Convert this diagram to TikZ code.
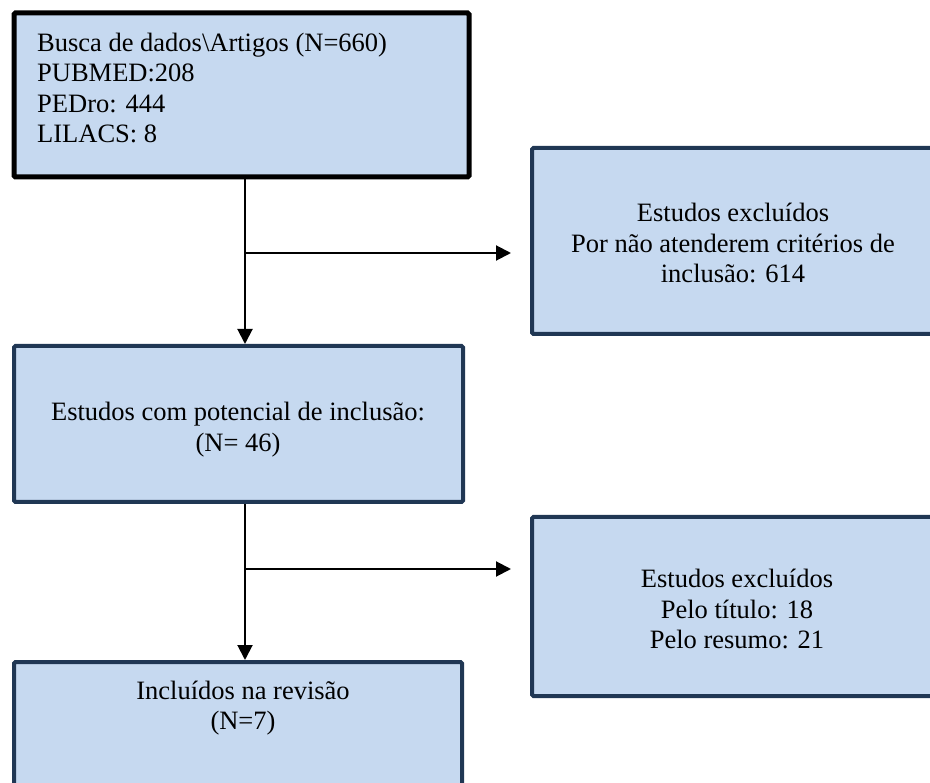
\documentclass[tikz,border=0pt]{standalone}
\usepackage{fontspec}
\setmainfont{Liberation Serif}
\usetikzlibrary{arrows.meta}
\definecolor{boxfill}{HTML}{C6D9F0}
\definecolor{boxline}{HTML}{203754}
\tikzset{
  flowbox/.style={draw=boxline, line width=4pt, fill=boxfill, rectangle, rounded corners=1.5pt, inner sep=0pt},
  topbox/.style={flowbox, draw=black, line width=5pt},
  txt/.style={font=\fontsize{26.5}{30.5}\selectfont, inner sep=0pt, text=black},
  conn/.style={line width=2pt, -{Triangle[length=15pt,width=15pt]}},
}
\begin{document}
\begin{tikzpicture}[x=1pt,y=-1pt]
\useasboundingbox (0,0) rectangle (930,783);
\clip (0,0) rectangle (930,783);
\node[topbox, minimum width=455pt, minimum height=164pt] (box1) at (241.5,95) {};
\node[flowbox, minimum width=402pt, minimum height=186pt] (box2) at (733,241) {};
\node[flowbox, minimum width=449pt, minimum height=156pt] (box3) at (238.5,424) {};
\node[flowbox, minimum width=410pt, minimum height=179pt] (box4) at (737,606.5) {};
\node[flowbox, minimum width=448pt, minimum height=158pt] (box5) at (238,741) {};

\node[txt, align=left, anchor=west] (t1) at (37,88) {Busca de dados\textbackslash Artigos (N=660)\\PUBMED:208\\PEDro: 444\\LILACS: 8};
\node[txt, align=center] (t2) at (733,243) {Estudos excluídos\\Por não atenderem critérios de\\inclusão: 614};
\node[txt, align=center] (t3) at (238,429.5) {Estudos com potencial de inclusão:\\(N= 46)};
\node[txt, align=center] (t4) at (737,609) {Estudos excluídos\\Pelo título: 18\\Pelo resumo: 21};
\node[txt, align=center] (t5) at (243,708) {Incluídos na revisão\\(N=7)};

\coordinate (j1) at (245,253);
\coordinate (j2) at (245,569);
\draw[line width=2pt] (box1.south -| j1) -- (j1);
\draw[conn] (j1) -- (box3.north -| j1);
\draw[conn, shorten >=19pt] (j1) -- (j1 -| box2.west);
\draw[line width=2pt] (box3.south -| j2) -- (j2);
\draw[conn] (j2) -- (box5.north -| j2);
\draw[conn, shorten >=19pt] (j2) -- (j2 -| box4.west);
\end{tikzpicture}
\end{document}
